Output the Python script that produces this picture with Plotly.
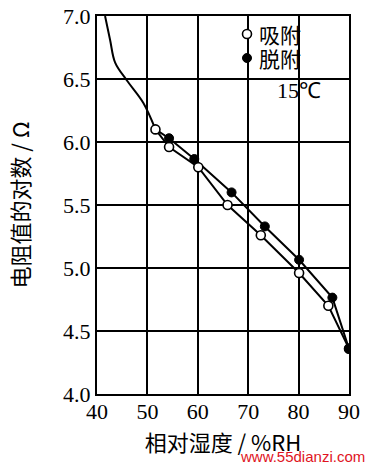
import plotly.graph_objects as go

# Shared upper branch (both curves coincide at low humidity)
rh_curve = [41.6, 42.6, 43.6, 45.9, 49.2, 51.6]
logr_curve = [7.0, 6.81, 6.63, 6.49, 6.31, 6.10]

# 吸附 (adsorption) - open circles
rh_ads = [51.6, 54.3, 60.1, 65.9, 72.5, 80.1, 85.9, 90.0]
logr_ads = [6.10, 5.96, 5.80, 5.50, 5.26, 4.96, 4.70, 4.36]

# 脱附 (desorption) - filled circles
rh_des = [51.6, 54.3, 59.3, 66.7, 73.3, 80.1, 86.7, 90.0]
logr_des = [6.10, 6.03, 5.865, 5.60, 5.33, 5.065, 4.765, 4.36]

x_ticks = [40, 50, 60, 70, 80, 90]
y_ticks = [4.0, 4.5, 5.0, 5.5, 6.0, 6.5, 7.0]

SERIF = "Liberation Serif, Times New Roman, serif"
CJK = "Noto Sans CJK SC, sans-serif"

W, H = 371, 465
L, R, T, B = 97, 22, 16, 71
PW, PH = W - L - R, H - T - B


def px(xp):
    return (xp - L) / PW


def py(yp):
    return (H - B - yp) / PH


fig = go.Figure()

fig.add_trace(go.Scatter(x=rh_curve, y=logr_curve, mode="lines", line=dict(color="black", width=2, shape="spline"),
                         showlegend=False, hoverinfo="skip"))
fig.add_trace(go.Scatter(x=rh_ads, y=logr_ads, mode="lines", line=dict(color="black", width=2),
                         showlegend=False, hoverinfo="skip"))
fig.add_trace(go.Scatter(x=rh_des, y=logr_des, mode="lines", line=dict(color="black", width=2),
                         showlegend=False, hoverinfo="skip"))

fig.add_trace(go.Scatter(x=rh_ads, y=logr_ads, mode="markers", name=" ",
                         marker=dict(symbol="circle", size=9, color="white", line=dict(color="black", width=1.6)),
                         legend="legend"))
fig.add_trace(go.Scatter(x=rh_des[1:], y=logr_des[1:], mode="markers", name=" ",
                         marker=dict(symbol="circle", size=9, color="black", line=dict(color="black", width=1)),
                         legend="legend2"))

axis_common = dict(showgrid=True, gridcolor="black", gridwidth=2, showline=True, linecolor="black",
                   linewidth=2, mirror=True, ticks="", zeroline=False, automargin=False,
                   tickfont=dict(family=SERIF, size=22, color="black"))

fig.update_xaxes(range=[40, 90], tickvals=x_ticks, ticktext=[str(v) for v in x_ticks],
                 ticklabelstandoff=-3,
                 title=dict(text="相对湿度 / %RH", font=dict(family=CJK, size=22, color="black"), standoff=12),
                 **axis_common)
fig.update_yaxes(range=[4.0, 7.0], tickvals=y_ticks, ticktext=[f"{v:.1f}" for v in y_ticks],
                 title=dict(text="电阻值的对数 / Ω", font=dict(family=CJK, size=22, color="black"), standoff=27),
                 **axis_common)

legend_common = dict(bgcolor="rgba(0,0,0,0)", borderwidth=0, xanchor="left", yanchor="middle",
                     font=dict(family=CJK, size=12, color="black"), itemwidth=30)

fig.update_layout(
    width=W, height=H,
    margin=dict(l=L, r=R, t=T, b=B, autoexpand=False),
    paper_bgcolor="white", plot_bgcolor="white",
    legend=dict(x=px(247 - 20), y=py(34), **legend_common),
    legend2=dict(x=px(247 - 20), y=py(58), **legend_common),
    shapes=[
        dict(type="rect", xref="paper", yref="paper", x0=px(236), x1=px(300), y0=py(53), y1=py(17),
             fillcolor="white", line=dict(width=0), layer="between"),
        dict(type="rect", xref="paper", yref="paper", x0=px(272), x1=px(325), y0=py(108), y1=py(17),
             fillcolor="white", line=dict(width=0), layer="between"),
    ],
    annotations=[
        dict(text="吸附", xref="paper", yref="paper", x=px(257), y=py(34), xanchor="left", yanchor="middle",
             showarrow=False, font=dict(family=CJK, size=21, color="black")),
        dict(text="脱附", xref="paper", yref="paper", x=px(257), y=py(58), xanchor="left", yanchor="middle",
             showarrow=False, font=dict(family=CJK, size=21, color="black")),
        dict(text="15℃", xref="paper", yref="paper", x=px(299), y=py(91), xanchor="center", yanchor="middle",
             showarrow=False, font=dict(family=SERIF, size=22, color="black")),
        dict(text="www.55dianzi.com", xref="paper", yref="paper", x=px(367), y=py(456), xanchor="right",
             yanchor="middle", showarrow=False, font=dict(family="Liberation Sans, Arial, sans-serif", size=15,
                                                          color="#e0141e")),
    ],
)

fig.write_html("out.html", config={"displayModeBar": False},
               post_script="document.body.style.margin='0';document.body.style.padding='0';")
